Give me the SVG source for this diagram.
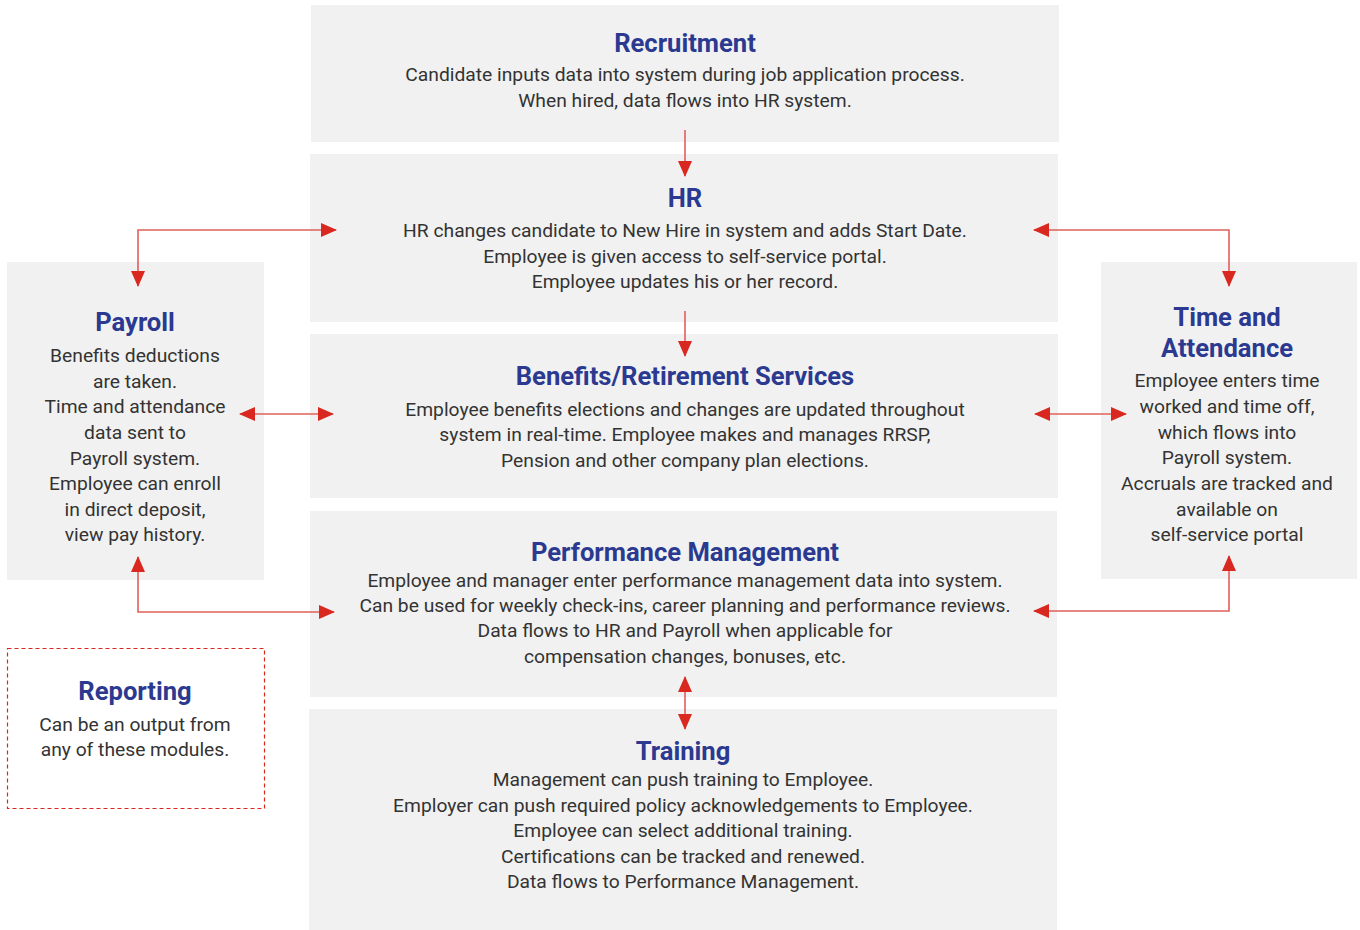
<svg xmlns="http://www.w3.org/2000/svg" width="1360" height="930" viewBox="0 0 1360 930">
  <style>
    .box { fill: #f1f1f1; }
    .dash { fill: #ffffff; stroke: #d9281f; stroke-width: 1.2; stroke-dasharray: 4 3; }
    .title { font-family: Roboto, "Liberation Sans", sans-serif; font-size: 25.6px; font-weight: bold; fill: #2b3990; text-anchor: middle; }
    .body { font-family: Roboto, "Liberation Sans", sans-serif; font-size: 19.25px; fill: #333333; text-anchor: middle; }
    .wire { fill: none; stroke: #e0605a; stroke-width: 1.6; }
  </style>
  <defs>
    <marker id="head" viewBox="0 0 16 14" refX="15" refY="7" markerWidth="16" markerHeight="14" markerUnits="userSpaceOnUse" orient="auto-start-reverse">
      <path d="M0,0 L16,7 L0,14 Z" fill="#d9281f"/>
    </marker>
  </defs>
  <rect width="1360" height="930" fill="#ffffff"/>

  <g id="recruitment">
    <rect class="box" x="311" y="5" width="748" height="137"/>
    <text class="title" x="685" y="52">Recruitment</text>
    <text class="body" x="685" y="81">Candidate inputs data into system during job application process.</text>
    <text class="body" x="685" y="107">When hired, data flows into HR system.</text>
  </g>

  <g id="hr">
    <rect class="box" x="310" y="154" width="748" height="168"/>
    <text class="title" x="685" y="207">HR</text>
    <text class="body" x="685" y="237">HR changes candidate to New Hire in system and adds Start Date.</text>
    <text class="body" x="685" y="263">Employee is given access to self-service portal.</text>
    <text class="body" x="685" y="288">Employee updates his or her record.</text>
  </g>

  <g id="benefits">
    <rect class="box" x="310" y="334" width="748" height="164"/>
    <text class="title" x="685" y="385">Benefits/Retirement Services</text>
    <text class="body" x="685" y="416">Employee benefits elections and changes are updated throughout</text>
    <text class="body" x="685" y="441">system in real-time. Employee makes and manages RRSP,</text>
    <text class="body" x="685" y="467">Pension and other company plan elections.</text>
  </g>

  <g id="performance">
    <rect class="box" x="310" y="511" width="747" height="186"/>
    <text class="title" x="685" y="561">Performance Management</text>
    <text class="body" x="685" y="587">Employee and manager enter performance management data into system.</text>
    <text class="body" x="685" y="612">Can be used for weekly check-ins, career planning and performance reviews.</text>
    <text class="body" x="685" y="637">Data flows to HR and Payroll when applicable for</text>
    <text class="body" x="685" y="663">compensation changes, bonuses, etc.</text>
  </g>

  <g id="training">
    <rect class="box" x="309" y="709" width="748" height="221"/>
    <text class="title" x="683" y="760">Training</text>
    <text class="body" x="683" y="786">Management can push training to Employee.</text>
    <text class="body" x="683" y="812">Employer can push required policy acknowledgements to Employee.</text>
    <text class="body" x="683" y="837">Employee can select additional training.</text>
    <text class="body" x="683" y="863">Certifications can be tracked and renewed.</text>
    <text class="body" x="683" y="888">Data flows to Performance Management.</text>
  </g>

  <g id="payroll">
    <rect class="box" x="7" y="262" width="257" height="318"/>
    <text class="title" x="135" y="331">Payroll</text>
    <text class="body" x="135" y="362">Benefits deductions</text>
    <text class="body" x="135" y="388">are taken.</text>
    <text class="body" x="135" y="413">Time and attendance</text>
    <text class="body" x="135" y="439">data sent to</text>
    <text class="body" x="135" y="465">Payroll system.</text>
    <text class="body" x="135" y="490">Employee can enroll</text>
    <text class="body" x="135" y="516">in direct deposit,</text>
    <text class="body" x="135" y="541">view pay history.</text>
  </g>

  <g id="time-attendance">
    <rect class="box" x="1101" y="262" width="256" height="317"/>
    <text class="title" x="1227" y="326">Time and</text>
    <text class="title" x="1227" y="357">Attendance</text>
    <text class="body" x="1227" y="387">Employee enters time</text>
    <text class="body" x="1227" y="413">worked and time off,</text>
    <text class="body" x="1227" y="439">which flows  into</text>
    <text class="body" x="1227" y="464">Payroll system.</text>
    <text class="body" x="1227" y="490">Accruals are tracked and</text>
    <text class="body" x="1227" y="516">available on</text>
    <text class="body" x="1227" y="541">self-service portal</text>
  </g>

  <g id="reporting">
    <rect class="dash" x="7.5" y="648.5" width="257" height="160"/>
    <text class="title" x="135" y="700">Reporting</text>
    <text class="body" x="135" y="731">Can be an output from</text>
    <text class="body" x="135" y="756">any of these modules.</text>
  </g>

  <g id="connectors">
    <!-- vertical flow down the centre column -->
    <path class="wire" d="M685,130 V176" marker-end="url(#head)"/>
    <path class="wire" d="M685,311 V356" marker-end="url(#head)"/>
    <path class="wire" d="M685,677 V729" marker-start="url(#head)" marker-end="url(#head)"/>
    <!-- payroll links -->
    <path class="wire" d="M138,286 V230 H336" marker-start="url(#head)" marker-end="url(#head)"/>
    <path class="wire" d="M240,414 H333" marker-start="url(#head)" marker-end="url(#head)"/>
    <path class="wire" d="M138,557 V612 H334" marker-start="url(#head)" marker-end="url(#head)"/>
    <!-- time and attendance links -->
    <path class="wire" d="M1034,230 H1229 V286" marker-start="url(#head)" marker-end="url(#head)"/>
    <path class="wire" d="M1035,414 H1126" marker-start="url(#head)" marker-end="url(#head)"/>
    <path class="wire" d="M1229,556 V611 H1034" marker-start="url(#head)" marker-end="url(#head)"/>
  </g>
</svg>
